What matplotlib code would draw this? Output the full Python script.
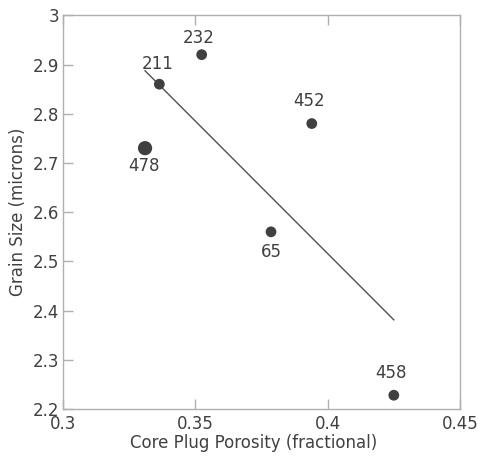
import numpy as np
import matplotlib
matplotlib.use("Agg")
import matplotlib.pyplot as plt

# core plug data
sample_ids = ["232", "211", "478", "452", "65", "458"]
porosity = [0.3524, 0.3364, 0.331, 0.394, 0.3786, 0.425]
grain_size = [2.92, 2.86, 2.73, 2.78, 2.56, 2.228]
marker_size = [60, 60, 105, 60, 60, 60]
# label offsets in pixels (dx, dy)
label_offsets = [(-3, 17), (-2, 20), (-1, -18), (-3, 23), (0, -20), (-3, 22)]

plt.rcParams["font.family"] = ["DejaVu Sans"]
text_color = "#404040"
spine_color = "#b0b0b0"

fig = plt.figure(figsize=(4.78, 4.59), dpi=100)
ax = fig.add_axes([0.1318, 0.1089, 0.8305, 0.8578])

ax.scatter(porosity, grain_size, s=marker_size, color="#404040", zorder=3,
           edgecolors="none")

# least squares fit over the data range
slope, intercept = np.polyfit(porosity, grain_size, 1)
xfit = np.array([min(porosity), max(porosity)])
ax.plot(xfit, slope * xfit + intercept, color="#505050", lw=1.0, zorder=2)

for sid, x, y, (dx, dy) in zip(sample_ids, porosity, grain_size, label_offsets):
    ax.annotate(sid, (x, y), xytext=(dx, dy), textcoords="offset pixels",
                ha="center", va="center", fontsize=12, color=text_color)

ax.set_xlim(0.3, 0.45)
ax.set_ylim(2.2, 3.0)
ax.set_xticks([0.3, 0.35, 0.4, 0.45])
ax.set_xticklabels(["0.3", "0.35", "0.4", "0.45"])
ax.set_yticks([2.2, 2.3, 2.4, 2.5, 2.6, 2.7, 2.8, 2.9, 3.0])
ax.set_yticklabels(["2.2", "2.3", "2.4", "2.5", "2.6", "2.7", "2.8", "2.9", "3"])

ax.tick_params(direction="in", length=7, width=1, color=spine_color,
               labelsize=12, labelcolor=text_color, top=True, right=False)
ax.tick_params(axis="x", pad=4)
ax.tick_params(axis="y", pad=3)
for sp in ax.spines.values():
    sp.set_color(spine_color)
    sp.set_linewidth(1.0)

ax.set_xlabel("Core Plug Porosity (fractional)", fontsize=12, color=text_color, labelpad=1)
ax.xaxis.label.set_x(0.479)
ax.set_ylabel("Grain Size (microns)", fontsize=12, color=text_color, labelpad=4)

fig.savefig("out.png", dpi=100)
